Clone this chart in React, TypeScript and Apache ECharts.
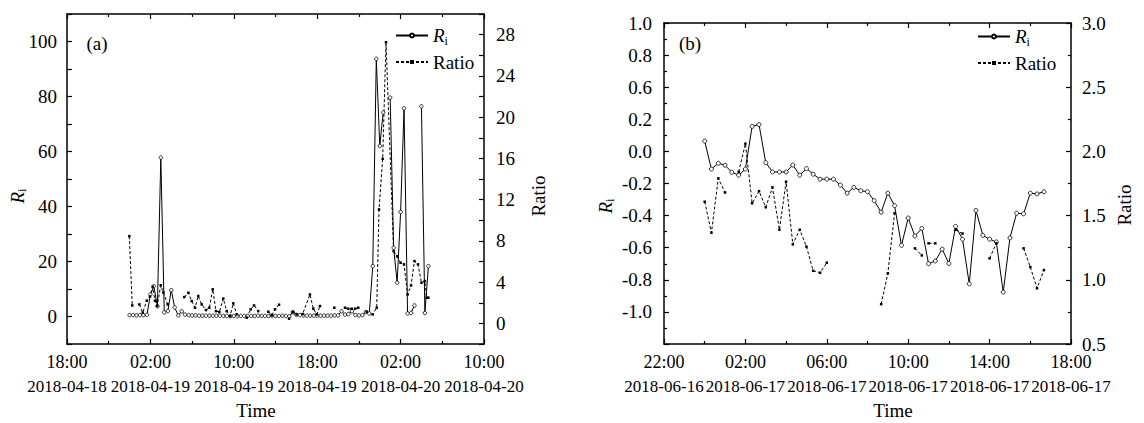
import React, { useEffect, useRef } from "react";
import * as echarts from "echarts";

const FONT = "'Liberation Serif', 'Times New Roman', serif";

// ---------- Panel (a): x = hours since 2018-04-18 18:00 ----------
const xTimeLabelsA = ["18:00", "02:00", "10:00", "18:00", "02:00", "10:00"];
const xDateLabelsA = ["2018-04-18", "2018-04-19", "2018-04-19", "2018-04-19", "2018-04-20", "2018-04-20"];
const yLeftLabelsA = ["", "0", "", "20", "", "40", "", "60", "", "80", "", "100", ""];
const yRightLabelsA = ["", "0", "", "4", "", "8", "", "12", "", "16", "", "20", "", "24", "", "28", ""];

const riA: [number, number | null][] = [
  [6.0, 0.5], [6.33, 0.5], [6.67, 0.4], [7.0, 0.5], [7.33, 0.5], [7.67, 0.6], [8.0, 8.0], [8.33, 11.0],
  [8.67, 3.7], [9.0, 57.8], [9.33, 1.5], [9.67, 2.0], [10.0, 9.6], [10.33, 3.3], [10.67, 0.4], [11.0, 1.9],
  [11.33, 0.7], [11.67, 0.5], [12.0, 0.4], [12.33, 0.4], [12.67, 0.3], [13.0, 0.3], [13.33, 0.3], [13.67, 0.3],
  [14.0, 0.3], [14.33, 0.3], [14.67, 0.3], [15.0, 0.2], [15.33, 0.2], [15.67, 0.1], [16.0, 0.2], [16.33, 0.1],
  [16.67, 0.2], [17.0, 0.2], [17.33, 0.2], [17.67, 0.2], [18.0, 0.2], [18.33, 0.3], [18.67, 0.2], [19.0, 0.2],
  [19.33, 0.2], [19.67, 0.3], [20.0, 0.2], [20.33, 0.2], [20.67, 0.3], [21.0, 0.2], [21.33, 0.1], [21.67, 1.6],
  [22.0, 0.6], [22.33, 0.5], [22.67, 0.4], [23.0, 0.3], [23.33, 0.3], [23.67, 0.3], [24.0, 0.3], [24.33, 0.3],
  [24.67, 0.3], [25.0, 0.3], [25.33, 0.3], [25.67, 0.4], [26.0, 0.4], [26.33, 1.9], [26.67, 0.7], [27.0, 0.9],
  [27.33, 1.9], [27.67, 0.5], [28.0, 0.4], [28.33, 0.5], [28.67, 1.6], [29.0, 1.1], [29.33, 18.3], [29.67, 93.7],
  [30.0, 62.0], [30.33, 74.2], [30.67, null], [31.0, 79.6], [31.33, 25.0], [31.67, 12.3], [32.0, 38.0], [32.33, 75.7],
  [32.67, 1.1], [33.0, 1.3], [33.33, 4.0], [33.67, null], [34.0, 76.4], [34.33, 1.3], [34.67, 18.3],
];

const ratioA: [number, number | null][] = [
  [5.98, 8.46], [6.26, 1.74], [6.6, null], [6.94, 1.84], [7.26, 1.05], [7.65, 2.2], [7.96, 2.6], [8.22, 3.55],
  [8.44, 2.2], [8.66, 1.7], [8.99, 3.7], [9.24, 3.0], [9.66, 1.84], [10.4, null], [11.25, 2.55], [11.64, 2.97],
  [11.96, 2.16], [12.28, 1.52], [12.59, 2.65], [12.92, 1.84], [13.33, 1.29], [13.65, 1.52], [13.98, 3.3], [14.29, 1.19],
  [14.61, 1.1], [14.99, 2.4], [15.32, 1.19], [15.64, 0.7], [15.95, 1.94], [16.28, 0.87], [16.7, null], [17.24, 0.55],
  [17.62, 1.36], [17.94, 1.74], [18.35, 1.19], [18.8, null], [19.31, 1.13], [19.64, 0.78], [19.95, 1.36], [20.34, 1.81],
  [20.8, null], [21.3, 0.45], [21.65, 1.1], [22.03, 0.87], [22.6, 0.9], [23.3, 2.8], [23.63, 1.42], [23.95, 0.87],
  [24.27, 1.68], [25.0, null], [25.64, 1.52], [26.2, null], [26.67, 1.52], [26.98, 1.42], [27.31, 1.42], [27.63, 1.42],
  [27.94, 1.52], [28.3, null], [28.75, 1.13], [29.32, 0.87], [29.71, 1.52], [29.93, 11.05], [30.28, 15.96], [30.6, 27.26],
  [31.33, 7.0], [31.67, 6.5], [32.0, 5.88], [32.33, 5.72], [32.67, 2.81], [33.0, 3.68], [33.33, 6.04], [33.67, 5.72],
  [34.0, 3.94], [34.33, 4.1], [34.5, 2.49], [34.67, 2.49],
];

// ---------- Panel (b): x = hours since 2018-06-16 22:00 ----------
const xTimeLabelsB = ["22:00", "02:00", "06:00", "10:00", "14:00", "18:00"];
const xDateLabelsB = ["2018-06-16", "2018-06-17", "2018-06-17", "2018-06-17", "2018-06-17", "2018-06-17"];
const yLeftLabelsB = ["", "-1.0", "-0.8", "-0.6", "-0.4", "-0.2", "0.0", "0.2", "0.6", "0.8", "1.0"];
const yRightLabelsB = ["0.5", "1.0", "1.5", "2.0", "2.5", "3.0"];

const riB: [number, number | null][] = [
  [2.0, 0.064], [2.33, -0.11], [2.67, -0.074], [3.0, -0.086], [3.33, -0.13], [3.67, -0.148], [4.0, -0.11],
  [4.33, 0.156], [4.67, 0.167], [5.0, -0.07], [5.33, -0.128], [5.67, -0.128], [6.0, -0.128], [6.33, -0.085],
  [6.67, -0.148], [7.0, -0.107], [7.33, -0.142], [7.67, -0.173], [8.0, -0.173], [8.33, -0.173], [8.67, -0.21],
  [9.0, -0.26], [9.33, -0.224], [9.67, -0.245], [10.0, -0.251], [10.33, -0.307], [10.67, -0.379], [11.0, -0.26],
  [11.33, -0.338], [11.67, -0.585], [12.0, -0.415], [12.33, -0.527], [12.67, -0.48], [13.0, -0.7], [13.33, -0.683],
  [13.67, -0.609], [14.0, -0.698], [14.33, -0.467], [14.67, -0.547], [15.0, -0.825], [15.33, -0.368], [15.67, -0.523],
  [16.0, -0.547], [16.33, -0.564], [16.67, -0.877], [17.0, -0.539], [17.33, -0.385], [17.67, -0.389], [18.0, -0.26],
  [18.33, -0.265], [18.67, -0.251],
];

const ratioB: [number, number | null][] = [
  [2.0, 1.608], [2.33, 1.367], [2.67, 1.79], [3.0, 1.68], [3.33, null], [3.67, 1.84], [4.0, 2.06], [4.33, 1.596],
  [4.67, 1.69], [5.0, 1.565], [5.33, 1.72], [5.67, 1.39], [6.0, 1.764], [6.33, 1.276], [6.67, 1.39], [7.0, 1.258],
  [7.33, 1.07], [7.67, 1.055], [8.0, 1.133], [8.33, null], [10.67, 0.81], [11.0, 1.05], [11.33, 1.518], [11.67, null],
  [12.33, 1.245], [12.67, 1.19], [12.83, null], [13.0, 1.284], [13.33, 1.284], [13.67, null], [14.33, 1.39],
  [14.67, 1.36], [15.0, null], [16.0, 1.167], [16.33, 1.284], [16.67, null], [17.67, 1.245], [18.0, 1.1],
  [18.33, 0.934], [18.67, 1.076],
];

const richSub = {
  r: { fontFamily: FONT, fontStyle: "italic", fontSize: 19, color: "#000", lineHeight: 22 },
  s: { fontFamily: FONT, fontSize: 12, color: "#000", verticalAlign: "bottom", lineHeight: 22 },
  n: { fontFamily: FONT, fontSize: 19, color: "#000", lineHeight: 22 },
};

function xAxes(gridIndex: number, max: number, interval: number, times: string[], dates: string[]) {
  const common = {
    type: "value",
    gridIndex,
    min: 0,
    max,
    interval,
    splitLine: { show: false },
    axisLine: { show: true, onZero: false, lineStyle: { color: "#000", width: 1.5 } },
    axisTick: { show: true, inside: true, length: 5, lineStyle: { color: "#000", width: 1.2 } },
    minorTick: { show: true, splitNumber: 2, length: 3, lineStyle: { color: "#000", width: 1.2 } },
  };
  return [
    {
      ...common,
      position: "bottom",
      axisLabel: {
        show: true,
        margin: 6,
        showMinLabel: true,
        showMaxLabel: true,
        hideOverlap: false,
        formatter: (v: number) => {
          const i = Math.round(v / interval);
          return `{t|${times[i] ?? ""}}\n{d|${dates[i] ?? ""}}`;
        },
        rich: {
          t: { fontFamily: FONT, fontSize: 18, color: "#000", lineHeight: 24 },
          d: { fontFamily: FONT, fontSize: 17, color: "#000", lineHeight: 24 },
        },
      },
    },
    { ...common, position: "top", axisLabel: { show: false } },
  ];
}

function yAxis(gridIndex: number, position: string, min: number, max: number, interval: number, labels: string[], minor: boolean, margin: number) {
  return {
    type: "value",
    gridIndex,
    position,
    min,
    max,
    interval,
    splitLine: { show: false },
    axisLine: { show: true, onZero: false, lineStyle: { color: "#000", width: 1.5 } },
    axisTick: { show: true, inside: true, length: 5, lineStyle: { color: "#000", width: 1.2 } },
    minorTick: { show: minor, splitNumber: 2, length: 3, lineStyle: { color: "#000", width: 1.2 } },
    axisLabel: {
      show: true,
      margin,
      showMinLabel: true,
      showMaxLabel: true,
      fontFamily: FONT,
      fontSize: 19,
      color: "#000",
      formatter: (v: number) => labels[Math.round((v - min) / interval)] ?? "",
    },
  };
}

function riSeries(name: string, xi: number, yi: number, data: any, size: number) {
  return {
    name,
    type: "line",
    xAxisIndex: xi,
    yAxisIndex: yi,
    data,
    connectNulls: false,
    symbol: "circle",
    symbolSize: size,
    showAllSymbol: true,
    itemStyle: { color: "#fff", borderColor: "#000", borderWidth: 0.8 },
    lineStyle: { color: "#000", width: 1 },
    emphasis: { disabled: true },
  };
}

function ratioSeries(name: string, xi: number, yi: number, data: any) {
  return {
    name,
    type: "line",
    xAxisIndex: xi,
    yAxisIndex: yi,
    data,
    connectNulls: false,
    symbol: "rect",
    symbolSize: 2.5,
    showAllSymbol: true,
    itemStyle: { color: "#000" },
    lineStyle: { color: "#000", width: 1, type: [3, 2] },
    emphasis: { disabled: true },
  };
}

function legend(left: number, top: number) {
  return {
    orient: "vertical",
    left,
    top,
    itemWidth: 32,
    itemHeight: 5,
    itemGap: 6,
    data: ["Ri", "Ratio"],
    formatter: (n: string) => (n === "Ri" ? "{r|R}{s|i}" : "{n|Ratio}"),
    textStyle: { fontFamily: FONT, fontSize: 19, color: "#000", rich: richSub },
  };
}

function textEl(text: string, x: number, y: number, rotate = 0, rich = false) {
  return {
    type: "text",
    x,
    y,
    rotation: rotate,
    style: {
      text,
      fontFamily: FONT,
      fontSize: 19,
      fill: "#000",
      align: "center",
      verticalAlign: "middle",
      ...(rich ? { rich: richSub } : {}),
    },
  };
}

export default function App() {
  const ref = useRef<HTMLDivElement>(null);
  useEffect(() => {
    if (!ref.current) return;
    const chart = echarts.init(ref.current, undefined, { renderer: "svg" });
    chart.setOption({
      animation: false,
      backgroundColor: "#fff",
      textStyle: { fontFamily: FONT },
      grid: [
        { left: 67, top: 14, width: 417, height: 330 },
        { left: 664, top: 23, width: 407, height: 321 },
      ],
      xAxis: [
        ...xAxes(0, 40, 8, xTimeLabelsA, xDateLabelsA),
        ...xAxes(1, 20, 4, xTimeLabelsB, xDateLabelsB),
      ],
      yAxis: [
        yAxis(0, "left", -10, 110, 10, yLeftLabelsA, false, 10),
        yAxis(0, "right", -2, 30, 2, yRightLabelsA, false, 12),
        yAxis(1, "left", -1.2, 0.8, 0.2, yLeftLabelsB, true, 12),
        yAxis(1, "right", 0.5, 3.0, 0.5, yRightLabelsB, true, 11),
      ],
      legend: [legend(390, 21), legend(972, 22)],
      series: [
        riSeries("Ri", 0, 0, riA, 3.5),
        ratioSeries("Ratio", 0, 1, ratioA),
        riSeries("Ri", 2, 2, riB, 4),
        ratioSeries("Ratio", 2, 3, ratioB),
      ],
      graphic: [
        textEl("(a)", 97, 43),
        textEl("(b)", 690, 43),
        textEl("Time", 256, 410),
        textEl("Time", 893, 410),
        textEl("{r|R}{s|i}", 17, 196, Math.PI / 2, true),
        textEl("{r|R}{s|i}", 605, 206, Math.PI / 2, true),
        textEl("Ratio", 538, 196, Math.PI / 2),
        textEl("Ratio", 1124, 205, Math.PI / 2),
      ],
    });
    return () => chart.dispose();
  }, []);
  return (
    <div
      ref={ref}
      style={{ position: "fixed", left: 0, top: 0, width: 1144, height: 423, background: "#fff" }}
    />
  );
}
